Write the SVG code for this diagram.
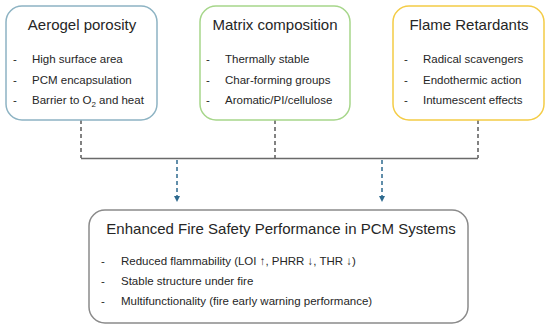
<svg xmlns="http://www.w3.org/2000/svg" width="550" height="331" viewBox="0 0 550 331">
<defs>
<style>
text{font-family:"Liberation Sans",Arial,sans-serif;fill:#262626}
.t{font-size:15px;text-anchor:middle}
.b{font-size:11.5px}
.box{fill:#fff;stroke-width:1.5}
.dash{stroke:#595959;stroke-width:1.5;stroke-dasharray:4 3;fill:none}
.arr{stroke:#2e6a8e;stroke-width:1.5;stroke-dasharray:4 3;fill:none}
</style>
<marker id="ah" viewBox="0 0 6 6" refX="3" refY="6" markerWidth="6" markerHeight="6" orient="auto-start-reverse" markerUnits="userSpaceOnUse">
<path d="M0,0 L6,0 L3,6 Z" fill="#2e6a8e"/>
</marker>
</defs>
<rect width="550" height="331" fill="#fff"/>
<g id="connectors">
<path class="dash" d="M81,120 V158"/>
<path class="dash" d="M275,120 V158"/>
<path class="dash" d="M478,120 V158"/>
<path d="M81,158.5 H478" stroke="#6a6a6a" stroke-width="1.5" fill="none"/>
<path class="arr" d="M177,160 V196"/>
<path d="M174,196 L180,196 L177,202 Z" fill="#2e6a8e"/>
<path class="arr" d="M382,160 V196"/>
<path d="M379,196 L385,196 L382,202 Z" fill="#2e6a8e"/>
</g>
<g id="aerogel">
<rect class="box" x="6" y="6" width="151" height="114" rx="16" stroke="#8db3c3"/>
<text class="t" x="82" y="30">Aerogel porosity</text>
<text class="b" x="13" y="63">-</text><text class="b" x="32" y="63">High surface area</text>
<text class="b" x="13" y="84">-</text><text class="b" x="32" y="84">PCM encapsulation</text>
<text class="b" x="13" y="104">-</text><text class="b" x="32" y="104">Barrier to O<tspan font-size="8" dy="3">2</tspan><tspan dy="-3"> and heat</tspan></text>
</g>
<g id="matrix">
<rect class="box" x="200" y="6" width="150" height="114" rx="16" stroke="#a6d68a"/>
<text class="t" x="275" y="30">Matrix composition</text>
<text class="b" x="206" y="63">-</text><text class="b" x="225" y="63">Thermally stable</text>
<text class="b" x="206" y="84">-</text><text class="b" x="225" y="84">Char-forming groups</text>
<text class="b" x="206" y="104">-</text><text class="b" x="225" y="104">Aromatic/PI/cellulose</text>
</g>
<g id="flame">
<rect class="box" x="393" y="6" width="151" height="114" rx="16" stroke="#f4cc46"/>
<text class="t" x="469" y="30">Flame Retardants</text>
<text class="b" x="404" y="63">-</text><text class="b" x="423" y="63">Radical scavengers</text>
<text class="b" x="404" y="84">-</text><text class="b" x="423" y="84">Endothermic action</text>
<text class="b" x="404" y="104">-</text><text class="b" x="423" y="104">Intumescent effects</text>
</g>
<g id="enhanced">
<rect class="box" x="89" y="210" width="379" height="113" rx="16" stroke="#8a8a8a"/>
<text class="t" x="281" y="234">Enhanced Fire Safety Performance in PCM Systems</text>
<text class="b" x="101" y="265">-</text><text class="b" x="121" y="265">Reduced flammability (LOI ↑, PHRR ↓, THR ↓)</text>
<text class="b" x="101" y="285">-</text><text class="b" x="121" y="285">Stable structure under fire</text>
<text class="b" x="101" y="305">-</text><text class="b" x="121" y="305">Multifunctionality (fire early warning performance)</text>
</g>
</svg>
